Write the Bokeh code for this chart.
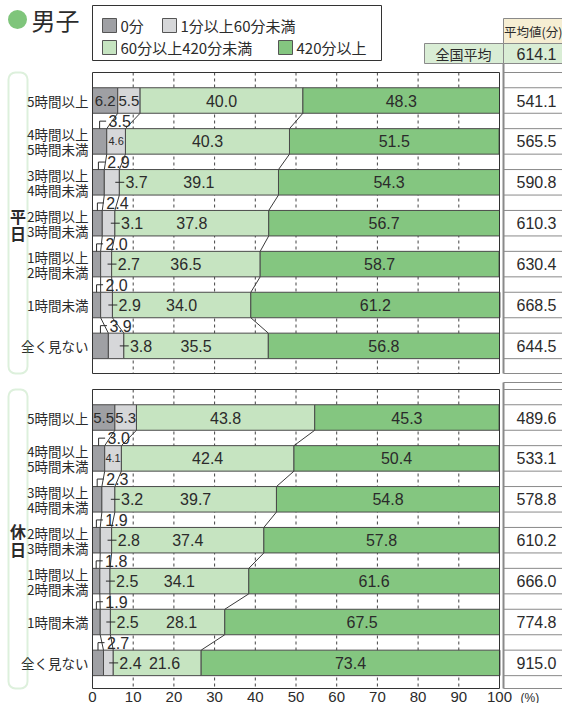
from bokeh.plotting import figure
from bokeh.models import Range1d, BoxAnnotation
from bokeh.core.properties import value
from bokeh.embed import file_html
from bokeh.resources import INLINE

# ---------------- data ----------------
row_labels = ["5時間以上", "4時間以上\n5時間未満", "3時間以上\n4時間未満", "2時間以上\n3時間未満",
              "1時間以上\n2時間未満", "1時間未満", "全く見ない"]
group_names = ["平日", "休日"]
series_names = ["0分", "1分以上60分未満", "60分以上420分未満", "420分以上"]

weekday_zero = [6.2, 3.5, 2.9, 2.4, 2.0, 2.0, 3.9]
weekday_under60 = [5.5, 4.6, 3.7, 3.1, 2.7, 2.9, 3.8]
weekday_60to420 = [40.0, 40.3, 39.1, 37.8, 36.5, 34.0, 35.5]
weekday_over420 = [48.3, 51.5, 54.3, 56.7, 58.7, 61.2, 56.8]
weekday_avg = [541.1, 565.5, 590.8, 610.3, 630.4, 668.5, 644.5]

holiday_zero = [5.5, 3.0, 2.3, 1.9, 1.8, 1.9, 2.7]
holiday_under60 = [5.3, 4.1, 3.2, 2.8, 2.5, 2.5, 2.4]
holiday_60to420 = [43.8, 42.4, 39.7, 37.4, 34.1, 28.1, 21.6]
holiday_over420 = [45.3, 50.4, 54.8, 57.8, 61.6, 67.5, 73.4]
holiday_avg = [489.6, 533.1, 578.8, 610.2, 666.0, 774.8, 915.0]

national_avg = 614.1
x_ticks = [0, 10, 20, 30, 40, 50, 60, 70, 80, 90, 100]
x_tick_labels = ["0", "10", "20", "30", "40", "50", "60", "70", "80", "90", "100"]

# ---------------- style ----------------
COLORS = ["#9fa0a4", "#d6d7d9", "#c6e4c1", "#84c680"]
TXT = "#2b2b2b"
NUM_FONT = value("Liberation Sans")
JP_FONT = value("Noto Sans CJK JP")
GREEN_LINE = "#8fce8a"
TABLE_LINE = "#8a8a8a"

W, H = 562, 703
X0 = 92.0     # px of 0 %
SC = 4.07     # px per percent


def xp(px):
    return (px - X0) / SC


PITCH = 40.9
BAR_H = 25.5
FIRST = 28

p = figure(frame_width=W, frame_height=H,
           x_range=Range1d(xp(0), xp(W)), y_range=Range1d(H, 0),
           output_backend="svg", toolbar_location=None,
           x_axis_location=None, y_axis_location=None, min_border=0,
           min_border_left=0, min_border_right=0, min_border_top=0, min_border_bottom=0)
p.xgrid.visible = False
p.ygrid.visible = False
p.outline_line_color = None
p.background_fill_color = "white"
p.border_fill_color = "white"

# x tick labels (scale positions from x_ticks)
p.text(x=x_ticks, y=[696] * len(x_ticks), text=x_tick_labels, text_align="center",
       text_baseline="middle", text_font=NUM_FONT, text_font_size=value("15px"), text_color=TXT)
p.text(x=[xp(520)], y=[697], text=["(%)"], text_align="left", text_baseline="middle",
       text_font=NUM_FONT, text_font_size=value("12px"), text_color=TXT)

# ---------------- title & legend ----------------
p.scatter(x=[xp(17)], y=[19], size=19, marker="circle", fill_color="#7fc57b", line_color=None)
p.text(x=[xp(31)], y=[19], text=["男子"], text_font=JP_FONT, text_font_size=value("24px"),
       text_baseline="middle", text_align="left", text_color=TXT)

p.quad(left=[xp(92)], right=[xp(381)], top=[5], bottom=[60], fill_color="white",
       line_color="#333333", line_width=1)
leg_sw_x = [102, 162, 102, 278]
leg_sw_y = [25, 25, 47, 47]
for k in range(4):
    p.quad(left=[xp(leg_sw_x[k])], right=[xp(leg_sw_x[k] + 14)], top=[leg_sw_y[k] - 7],
           bottom=[leg_sw_y[k] + 7], fill_color=COLORS[k], line_color="#555555", line_width=1)
    p.text(x=[xp(leg_sw_x[k] + 18)], y=[leg_sw_y[k]], text=[series_names[k]], text_font=JP_FONT,
           text_font_size=value("15px"), text_baseline="middle", text_align="left", text_color=TXT)

# header table
p.quad(left=[xp(503)], right=[xp(W + 2)], top=[18], bottom=[43], fill_color="#f6eed3",
       line_color=TABLE_LINE, line_width=1)
p.text(x=[xp(503.5)], y=[31], text=["平均値(分)"], text_font=JP_FONT, text_font_size=value("12.5px"),
       text_baseline="middle", text_align="left", text_color=TXT)
p.quad(left=[xp(424), xp(503)], right=[xp(503), xp(W + 2)], top=[43, 43], bottom=[63, 63],
       fill_color="#d9edd5", line_color=TABLE_LINE, line_width=1)
p.text(x=[xp(463)], y=[53], text=["全国平均"], text_font=JP_FONT, text_font_size=value("14px"),
       text_baseline="middle", text_align="center", text_color=TXT)
p.text(x=[xp(536)], y=[53], text=[f"{national_avg:.1f}"], text_font=NUM_FONT,
       text_font_size=value("16px"), text_baseline="middle", text_align="center", text_color=TXT)

groups = [
    dict(name=group_names[0], top=72, bottom=373, tab_top=63, char_y=(215, 232),
         segs=[weekday_zero, weekday_under60, weekday_60to420, weekday_over420], avg=weekday_avg),
    dict(name=group_names[1], top=389, bottom=688, tab_top=382, char_y=(530, 548),
         segs=[holiday_zero, holiday_under60, holiday_60to420, holiday_over420], avg=holiday_avg),
]

for g in groups:
    top, bottom = g["top"], g["bottom"]
    n = len(row_labels)
    centers = [top + FIRST + i * PITCH for i in range(n)]
    segs = g["segs"]

    # dashed grid
    inner = x_ticks[1:-1]
    p.segment(x0=inner, y0=[top] * len(inner), x1=inner, y1=[bottom] * len(inner),
              line_color="#444444", line_width=1, line_dash="3 3")

    # stacked bars
    lefts = [0.0] * n
    bounds = []
    for k in range(4):
        rights = [lefts[i] + segs[k][i] for i in range(n)]
        p.hbar(y=centers, height=BAR_H, left=lefts, right=rights, fill_color=COLORS[k],
               line_color="#4a4a4a", line_width=1)
        bounds.append(rights)
        lefts = rights

    # box
    p.quad(left=[0], right=[100], top=[top], bottom=[bottom], fill_color=None,
           line_color="#333333", line_width=1)

    # connectors
    cx0, cy0, cx1, cy1 = [], [], [], []
    for k in range(3):
        for i in range(n - 1):
            cx0.append(bounds[k][i]); cy0.append(centers[i] + BAR_H / 2)
            cx1.append(bounds[k][i + 1]); cy1.append(centers[i + 1] - BAR_H / 2)
    p.segment(x0=cx0, y0=cy0, x1=cx1, y1=cy1, line_color="#3a3a3a", line_width=1)

    # labels
    lx0, ly0, lx1, ly1 = [], [], [], []
    big = dict(x=[], y=[], t=[], a=[])
    mid15 = dict(x=[], y=[], t=[])
    small = dict(x=[], y=[], t=[])
    for i in range(n):
        c = centers[i]
        bt = c - BAR_H / 2
        z, u, m, o = segs[0][i], segs[1][i], segs[2][i], segs[3][i]
        b1 = z + u
        b2 = b1 + m
        # 0 min
        if z >= 5:
            mid15["x"].append(z / 2); mid15["y"].append(c); mid15["t"].append(f"{z:.1f}")
        else:
            c0 = z / 2
            ly = bt - 7.5
            lx0 += [c0, c0]; ly0 += [bt, ly]; lx1 += [c0, c0 + 1.6]; ly1 += [ly, ly]
            big["x"].append(c0 + 2.2); big["y"].append(ly); big["t"].append(f"{z:.1f}"); big["a"].append("left")
        # 1-60 min
        if u >= 5:
            mid15["x"].append(z + u / 2); mid15["y"].append(c); mid15["t"].append(f"{u:.1f}")
        elif u >= 4:
            small["x"].append(z + u / 2); small["y"].append(c); small["t"].append(f"{u:.1f}")
        else:
            lx0.append(b1 - 1.0); ly0.append(c); lx1.append(b1 + 1.2); ly1.append(c)
            big["x"].append(b1 + 1.5); big["y"].append(c); big["t"].append(f"{u:.1f}"); big["a"].append("left")
        # 60-420
        x2 = (b1 + b2) / 2
        if u < 4 and x2 < b1 + 16:
            x2 = min(b1 + 17.5, b2 - 9)
        big["x"].append(x2); big["y"].append(c); big["t"].append(f"{m:.1f}"); big["a"].append("center")
        # 420+
        big["x"].append(b2 + o / 2); big["y"].append(c); big["t"].append(f"{o:.1f}"); big["a"].append("center")

    p.segment(x0=lx0, y0=ly0, x1=lx1, y1=ly1, line_color="#2b2b2b", line_width=1)
    p.text(x=big["x"], y=big["y"], text=big["t"], text_align=big["a"], text_baseline="middle",
           text_font=NUM_FONT, text_font_size=value("16px"), text_color=TXT)
    p.text(x=mid15["x"], y=mid15["y"], text=mid15["t"], text_align="center", text_baseline="middle",
           text_font=NUM_FONT, text_font_size=value("15px"), text_color=TXT)
    p.text(x=small["x"], y=small["y"], text=small["t"], text_align="center", text_baseline="middle",
           text_font=NUM_FONT, text_font_size=value("11px"), text_color=TXT)

    # row labels
    rx, ry, rt = [], [], []
    for i, lab in enumerate(row_labels):
        parts = lab.split("\n")
        if len(parts) == 1:
            rx.append(xp(88)); ry.append(centers[i]); rt.append(parts[0])
        else:
            rx += [xp(88), xp(88)]; ry += [centers[i] - 7.5, centers[i] + 7.5]; rt += parts
    p.text(x=rx, y=ry, text=rt, text_align="right", text_baseline="middle", text_font=JP_FONT,
           text_font_size=value("13.5px"), text_color=TXT)

    # group label
    p.add_layout(BoxAnnotation(left=xp(8), right=xp(27), top=top, bottom=bottom,
                               fill_alpha=0, line_color=GREEN_LINE, line_width=2, border_radius=7))
    p.text(x=[xp(17.5), xp(17.5)], y=list(g["char_y"]), text=list(g["name"]), text_align="center",
           text_baseline="middle", text_font=JP_FONT, text_font_size=value("16px"),
           text_font_style="bold", text_color=TXT)

    # average table
    hy = [top] + [cc - BAR_H / 2 for cc in centers] + [cc + BAR_H / 2 for cc in centers] + [bottom]
    if g["tab_top"] > 100:
        hy.append(g["tab_top"])
    p.segment(x0=[xp(503)] * len(hy), y0=hy, x1=[xp(W + 2)] * len(hy), y1=hy,
              line_color=TABLE_LINE, line_width=1)
    p.segment(x0=[xp(503)], y0=[g["tab_top"]], x1=[xp(503)], y1=[bottom],
              line_color=TABLE_LINE, line_width=2)
    p.text(x=[xp(536)] * n, y=centers, text=[f"{v:.1f}" for v in g["avg"]], text_align="center",
           text_baseline="middle", text_font=NUM_FONT, text_font_size=value("16px"), text_color=TXT)

open("out.html", "w").write(file_html(p, INLINE))
